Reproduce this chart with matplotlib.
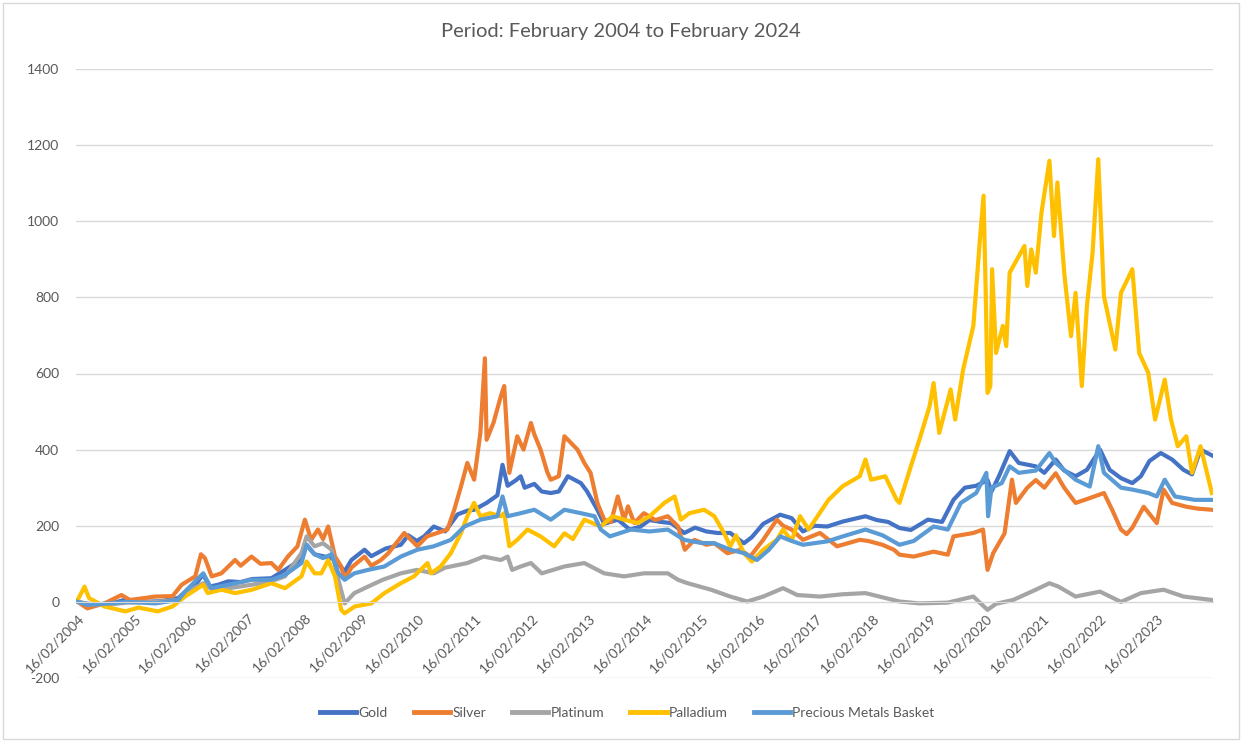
"""Precious metals performance (% change) since February 2004."""

import matplotlib
matplotlib.use("Agg")
import matplotlib.pyplot as plt
from matplotlib.patches import Rectangle

plt.rcParams["font.family"] = ["Lato", "DejaVu Sans"]
plt.rcParams["axes.unicode_minus"] = False

# decimal years
gold_t = [2004.13, 2004.3, 2004.5, 2004.75, 2004.95, 2005.3, 2005.6, 2005.9, 2006.05, 2006.2,
          2006.34, 2006.45, 2006.6, 2006.78, 2007.0, 2007.2, 2007.54, 2007.78, 2008.0, 2008.16,
          2008.3, 2008.45, 2008.6, 2008.72, 2008.83, 2008.95, 2009.18, 2009.3, 2009.55, 2009.82,
          2009.95, 2010.1, 2010.23, 2010.4, 2010.6, 2010.82, 2011.0, 2011.11, 2011.33, 2011.52,
          2011.61, 2011.7, 2011.85, 2011.93, 2012.0, 2012.17, 2012.3, 2012.46, 2012.6, 2012.76,
          2012.99, 2013.1, 2013.28, 2013.4, 2013.64, 2013.85, 2014.04, 2014.2, 2014.4, 2014.58,
          2014.81, 2015.0, 2015.2, 2015.4, 2015.62, 2015.86, 2016.0, 2016.2, 2016.5, 2016.7,
          2016.9, 2017.1, 2017.33, 2017.6, 2018.0, 2018.2, 2018.4, 2018.6, 2018.8, 2019.1,
          2019.35, 2019.55, 2019.75, 2019.95, 2020.15, 2020.22, 2020.35, 2020.54, 2020.7, 2021.0,
          2021.15, 2021.35, 2021.5, 2021.7, 2021.9, 2022.13, 2022.3, 2022.5, 2022.7, 2022.85,
          2023.0, 2023.2, 2023.4, 2023.6, 2023.75, 2023.9, 2024.1]
gold_v = [0, -5, -8, -3, 5, 0, 2, 10, 30, 45,
          72, 40, 45, 54, 52, 60, 62, 84, 105, 150,
          125, 120, 115, 100, 80, 110, 137, 120, 140, 150,
          175, 160, 172, 198, 185, 230, 240, 242, 260, 280,
          360, 305, 320, 330, 300, 310, 290, 286, 290, 330,
          312, 290, 242, 205, 216, 190, 198, 215, 210, 207,
          181, 195, 185, 181, 181, 154, 170, 205, 229, 220,
          185, 200, 198, 211, 225, 215, 210, 194, 189, 216,
          210, 268, 300, 305, 320, 290, 330, 396, 365, 356,
          339, 374, 345, 330, 347, 400, 347, 325, 312, 330,
          370, 391, 374, 347, 335, 400, 385]

silver_t = [2004.13, 2004.3, 2004.6, 2004.9, 2005.05, 2005.3, 2005.5, 2005.8, 2005.96, 2006.2,
            2006.3, 2006.37, 2006.49, 2006.66, 2006.9, 2007.0, 2007.19, 2007.35, 2007.54, 2007.66,
            2007.83, 2008.0, 2008.13, 2008.24, 2008.36, 2008.45, 2008.54, 2008.66, 2008.77, 2008.83,
            2008.95, 2009.18, 2009.3, 2009.47, 2009.6, 2009.88, 2010.11, 2010.28, 2010.46, 2010.64,
            2010.76, 2010.88, 2010.99, 2011.11, 2011.22, 2011.3, 2011.33, 2011.45, 2011.58, 2011.64,
            2011.73, 2011.87, 2011.98, 2012.11, 2012.17, 2012.28, 2012.4, 2012.46, 2012.6, 2012.7,
            2012.8, 2012.93, 2013.05, 2013.16, 2013.28, 2013.4, 2013.52, 2013.64, 2013.75, 2013.82,
            2013.93, 2014.1, 2014.3, 2014.52, 2014.7, 2014.82, 2014.99, 2015.2, 2015.34, 2015.57,
            2015.8, 2015.97, 2016.2, 2016.44, 2016.55, 2016.7, 2016.9, 2017.2, 2017.5, 2017.9,
            2018.05, 2018.3, 2018.5, 2018.6, 2018.85, 2019.2, 2019.45, 2019.55, 2019.9, 2020.07,
            2020.15, 2020.25, 2020.45, 2020.58, 2020.65, 2020.85, 2021.0, 2021.15, 2021.35, 2021.5,
            2021.7, 2021.9, 2022.2, 2022.35, 2022.5, 2022.6, 2022.7, 2022.9, 2023.13, 2023.25,
            2023.4, 2023.65, 2023.85, 2024.1]
silver_v = [0, -17, -4, 18, 5, 10, 14, 15, 45, 67,
            125, 115, 67, 75, 110, 95, 119, 100, 102, 84,
            119, 146, 216, 163, 190, 165, 198, 119, 93, 60,
            90, 119, 95, 110, 128, 181, 146, 172, 181, 190,
            242, 304, 365, 321, 444, 640, 426, 470, 540, 567,
            339, 435, 400, 470, 440, 400, 340, 321, 330, 435,
            420, 400, 365, 339, 260, 216, 210, 277, 216, 251,
            207, 233, 215, 225, 198, 137, 163, 150, 154, 128,
            137, 119, 163, 216, 200, 190, 163, 181, 146, 163,
            160, 150, 137, 124, 119, 132, 124, 172, 181, 190,
            84, 128, 180, 321, 260, 300, 320, 300, 338, 300,
            260, 270, 286, 240, 190, 178, 195, 250, 207, 295,
            260, 250, 245, 242]

platinum_t = [2004.13, 2004.3, 2004.6, 2005.0, 2005.5, 2005.9, 2006.02, 2006.34, 2006.5, 2006.8,
              2007.19, 2007.54, 2007.78, 2008.07, 2008.16, 2008.3, 2008.45, 2008.6, 2008.72, 2008.83,
              2009.0, 2009.24, 2009.5, 2009.82, 2010.1, 2010.4, 2010.6, 2010.99, 2011.28, 2011.58,
              2011.7, 2011.78, 2011.93, 2012.11, 2012.3, 2012.7, 2013.05, 2013.4, 2013.75, 2014.1,
              2014.52, 2014.7, 2014.87, 2015.28, 2015.62, 2015.92, 2016.2, 2016.55, 2016.8, 2017.2,
              2017.6, 2018.0, 2018.3, 2018.6, 2018.95, 2019.45, 2019.9, 2020.15, 2020.3, 2020.6,
              2021.0, 2021.24, 2021.4, 2021.7, 2022.13, 2022.5, 2022.85, 2023.25, 2023.6, 2024.1]
platinum_v = [0, -5, -8, -2, 0, 5, 23, 49, 32, 36,
              45, 54, 67, 128, 172, 146, 154, 137, 58, -4,
              23, 40, 58, 75, 84, 75, 90, 102, 119, 110,
              119, 84, 93, 102, 75, 93, 102, 75, 67, 75,
              75, 58, 49, 32, 14, 1, 14, 36, 18, 14,
              20, 23, 12, 1, -4, -2, 14, -21, -5, 5,
              32, 49, 40, 14, 27, 0, 23, 32, 14, 5]

palladium_t = [2004.13, 2004.25, 2004.33, 2004.6, 2004.97, 2005.2, 2005.54, 2005.8, 2006.02, 2006.34,
               2006.42, 2006.66, 2006.9, 2007.2, 2007.54, 2007.78, 2008.07, 2008.16, 2008.3, 2008.42,
               2008.54, 2008.66, 2008.77, 2008.83, 2009.01, 2009.3, 2009.53, 2009.82, 2010.05, 2010.29,
               2010.35, 2010.52, 2010.7, 2010.88, 2010.99, 2011.11, 2011.22, 2011.39, 2011.58, 2011.64,
               2011.73, 2011.87, 2012.05, 2012.28, 2012.52, 2012.7, 2012.85, 2013.05, 2013.34, 2013.55,
               2013.75, 2013.99, 2014.2, 2014.46, 2014.64, 2014.75, 2014.9, 2015.16, 2015.34, 2015.51,
               2015.62, 2015.72, 2015.86, 2016.0, 2016.2, 2016.44, 2016.55, 2016.7, 2016.85, 2017.0,
               2017.35, 2017.6, 2017.9, 2018.0, 2018.1, 2018.35, 2018.55, 2018.6, 2018.8, 2018.95,
               2019.13, 2019.2, 2019.3, 2019.5, 2019.58, 2019.72, 2019.9, 2020.02, 2020.08, 2020.12,
               2020.15, 2020.2, 2020.23, 2020.3, 2020.42, 2020.48, 2020.54, 2020.67, 2020.8, 2020.85,
               2020.92, 2021.0, 2021.1, 2021.24, 2021.32, 2021.38, 2021.5, 2021.62, 2021.7, 2021.81,
               2021.9, 2022.0, 2022.1, 2022.2, 2022.4, 2022.5, 2022.7, 2022.82, 2022.98, 2023.1,
               2023.2, 2023.27, 2023.38, 2023.5, 2023.65, 2023.75, 2023.9, 2024.1]
palladium_v = [5, 40, 10, -12, -25, -15, -25, -12, 14, 45,
               23, 32, 23, 32, 49, 36, 67, 106, 75, 75,
               110, 67, -21, -30, -12, -4, 23, 49, 67, 102,
               75, 93, 128, 181, 225, 260, 225, 233, 225, 233,
               146, 163, 190, 172, 146, 180, 165, 216, 198, 225,
               216, 207, 225, 260, 277, 216, 233, 242, 225, 181,
               146, 175, 128, 106, 137, 163, 190, 160, 225, 190,
               268, 304, 330, 374, 321, 330, 268, 260, 356, 426,
               514, 575, 444, 558, 479, 610, 725, 960, 1067, 800,
               549, 567, 874, 654, 725, 672, 865, 900, 935, 830,
               926, 865, 1023, 1159, 961, 1102, 865, 698, 812, 567,
               777, 918, 1163, 803, 663, 812, 874, 654, 602, 479,
               540, 584, 479, 409, 435, 339, 409, 286]

basket_t = [2004.13, 2004.3, 2004.6, 2005.0, 2005.5, 2005.9, 2006.02, 2006.34, 2006.48, 2006.78,
            2007.19, 2007.54, 2007.78, 2008.07, 2008.16, 2008.3, 2008.45, 2008.6, 2008.72, 2008.83,
            2009.0, 2009.24, 2009.53, 2009.82, 2010.11, 2010.4, 2010.7, 2010.94, 2011.22, 2011.52,
            2011.61, 2011.7, 2011.93, 2012.17, 2012.46, 2012.7, 2012.99, 2013.23, 2013.34, 2013.5,
            2013.87, 2014.2, 2014.52, 2014.81, 2015.1, 2015.34, 2015.62, 2015.86, 2016.09, 2016.3,
            2016.5, 2016.7, 2016.9, 2017.33, 2017.6, 2018.0, 2018.3, 2018.6, 2018.85, 2019.2,
            2019.45, 2019.68, 2019.95, 2020.13, 2020.16, 2020.22, 2020.4, 2020.54, 2020.7, 2021.0,
            2021.24, 2021.35, 2021.7, 2021.95, 2022.1, 2022.2, 2022.5, 2022.7, 2022.98, 2023.13,
            2023.27, 2023.45, 2023.8, 2024.1]
basket_v = [0, -8, -5, 0, -4, 5, 27, 75, 36, 45,
            58, 58, 71, 102, 150, 125, 115, 125, 75, 58,
            75, 84, 93, 119, 137, 146, 163, 198, 216, 225,
            277, 225, 233, 242, 216, 242, 233, 225, 190, 172,
            190, 185, 190, 163, 155, 154, 137, 128, 110, 137,
            172, 160, 150, 159, 172, 190, 175, 150, 160, 198,
            190, 260, 286, 339, 225, 300, 312, 356, 339, 345,
            391, 365, 321, 303, 409, 339, 300, 295, 286, 277,
            321, 277, 268, 268]

tick_years = list(range(2004, 2024))
y_ticks = [-200, 0, 200, 400, 600, 800, 1000, 1200, 1400]

series = [
    ("Gold", gold_t, gold_v, "#4472C4"),
    ("Silver", silver_t, silver_v, "#ED7D31"),
    ("Platinum", platinum_t, platinum_v, "#A5A5A5"),
    ("Palladium", palladium_t, palladium_v, "#FFC000"),
    ("Precious Metals Basket", basket_t, basket_v, "#5B9BD5"),
]

text_col = "#595959"
grid_col = "#D9D9D9"

fig = plt.figure(figsize=(12.42, 7.42), dpi=100)
ax = fig.add_axes([76 / 1242, 1 - 678 / 742, (1213 - 76) / 1242, (678 - 69) / 742])

# spine position first: moving it resets the tick label styling
for s in ["top", "right", "left"]:
    ax.spines[s].set_visible(False)
ax.spines["bottom"].set_position(("data", 0))
ax.spines["bottom"].set_color(grid_col)

for name, t, v, col in series:
    ax.plot(t, v, color=col, lw=3.0, label=name, solid_joinstyle="round")

ax.set_ylim(-200, 1400)
ax.set_yticks(y_ticks)
ax.set_xlim(2004.1, 2024.12)
ax.set_xticks([y + 0.13 for y in tick_years])
ax.set_xticklabels([f"16/02/{y}" for y in tick_years])

ax.grid(axis="y", color=grid_col, lw=1)
ax.set_axisbelow(True)
ax.tick_params(axis="both", length=0, labelsize=10, labelcolor=text_col)
ax.tick_params(axis="x", pad=7)
ax.tick_params(axis="y", pad=12)
plt.setp(ax.get_xticklabels(), rotation=45, ha="right", va="top",
         rotation_mode="anchor")

fig.text(0.5, 1 - 32 / 742, "Period: February 2004 to February 2024",
         ha="center", va="center", fontsize=14.5, color=text_col)

leg = fig.legend(loc="center", bbox_to_anchor=(0.505, 1 - 713 / 742), ncol=5,
                 frameon=False, fontsize=10, handlelength=2.6, handletextpad=0.15,
                 columnspacing=1.9)
for txt in leg.get_texts():
    txt.set_color(text_col)
for line in leg.get_lines():
    line.set_linewidth(3.5)

fig.patches.append(Rectangle((3 / 1242, 3 / 742), 1 - 6 / 1242, 1 - 6 / 742,
                             transform=fig.transFigure, fill=False,
                             edgecolor=grid_col, lw=1))

fig.savefig("out.png", dpi=100)
plt.close(fig)
